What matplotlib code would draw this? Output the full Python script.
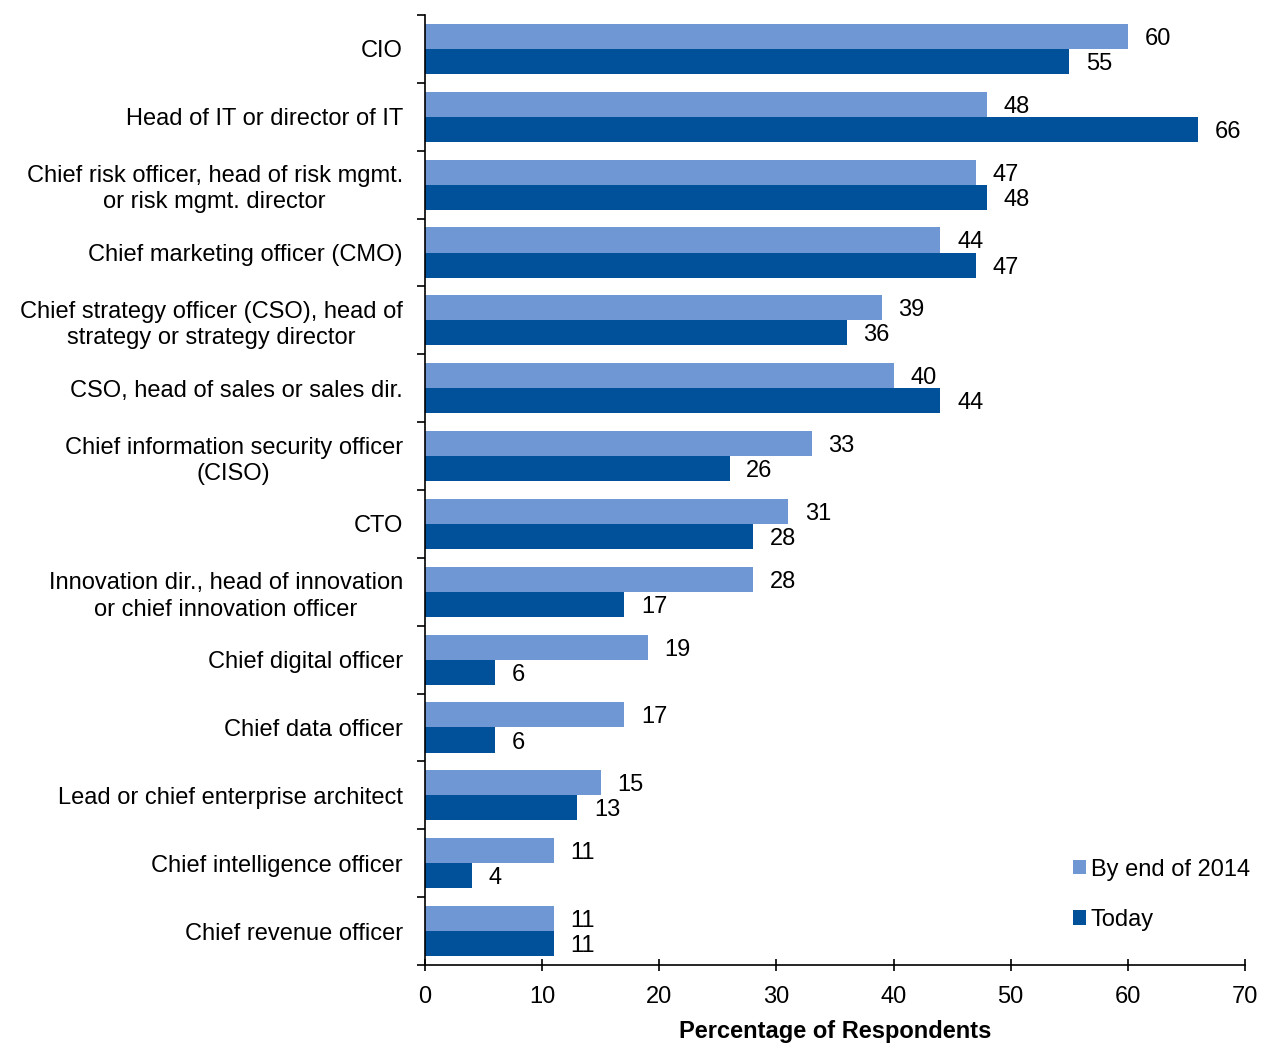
import numpy as np
import matplotlib.pyplot as plt

plt.rcParams['font.family'] = ['Liberation Sans', 'DejaVu Sans']

roles = [
    "CIO",
    "Head of IT or director of IT",
    "Chief risk officer, head of risk mgmt.\nor risk mgmt. director",
    "Chief marketing officer (CMO)",
    "Chief strategy officer (CSO), head of\nstrategy or strategy director",
    "CSO, head of sales or sales dir.",
    "Chief information security officer\n(CISO)",
    "CTO",
    "Innovation dir., head of innovation\nor chief innovation officer",
    "Chief digital officer",
    "Chief data officer",
    "Lead or chief enterprise architect",
    "Chief intelligence officer",
    "Chief revenue officer",
]
by_2014 = [60, 48, 47, 44, 39, 40, 33, 31, 28, 19, 17, 15, 11, 11]
today = [55, 66, 48, 47, 36, 44, 26, 28, 17, 6, 6, 13, 4, 11]

light = '#6E97D4'
dark = '#00519A'
fs = 17

fig = plt.figure(figsize=(12.62, 10.45), dpi=100)
ax = fig.add_axes([0.3368, 0.0766, 0.6497, 0.909])

y = np.arange(len(roles))
h = 0.37
b1 = ax.barh(y - h / 2, by_2014, height=h, color=light, label='By end of 2014')
b2 = ax.barh(y + h / 2, today, height=h, color=dark, label='Today')

for bars, vals in ((b1, by_2014), (b2, today)):
    for bar, v in zip(bars, vals):
        ax.annotate(str(v), xy=(v, bar.get_y() + bar.get_height() / 2),
                    xytext=(12, 0), textcoords='offset points',
                    ha='left', va='center_baseline', fontsize=fs)

ax.set_xlim(0, 70)
ax.set_ylim(len(roles) - 0.5, -0.5)
ax.set_xticks(range(0, 71, 10))
ax.tick_params(axis='x', direction='inout', length=8, width=1.2, labelsize=fs, pad=11)

ax.set_yticks(y)
ax.set_yticklabels(roles, fontsize=fs, ha='right', multialignment='center',
                   linespacing=1.25)
ax.tick_params(axis='y', which='major', length=0, pad=16)
ax.set_yticks(np.arange(-0.5, len(roles)), minor=True)
ax.tick_params(axis='y', which='minor', direction='out', length=6, width=1.2)

for s in ('top', 'right'):
    ax.spines[s].set_visible(False)
for s in ('left', 'bottom'):
    ax.spines[s].set_linewidth(1.2)

ax.set_xlabel('Percentage of Respondents', fontsize=fs, fontweight='bold', labelpad=9)

ax.legend(loc='lower right', bbox_to_anchor=(1.032, 0.0135), frameon=False,
          fontsize=fs, handlelength=0.55, handleheight=0.55, handletextpad=0.2,
          labelspacing=1.2)

fig.savefig('out.png', dpi=100)
